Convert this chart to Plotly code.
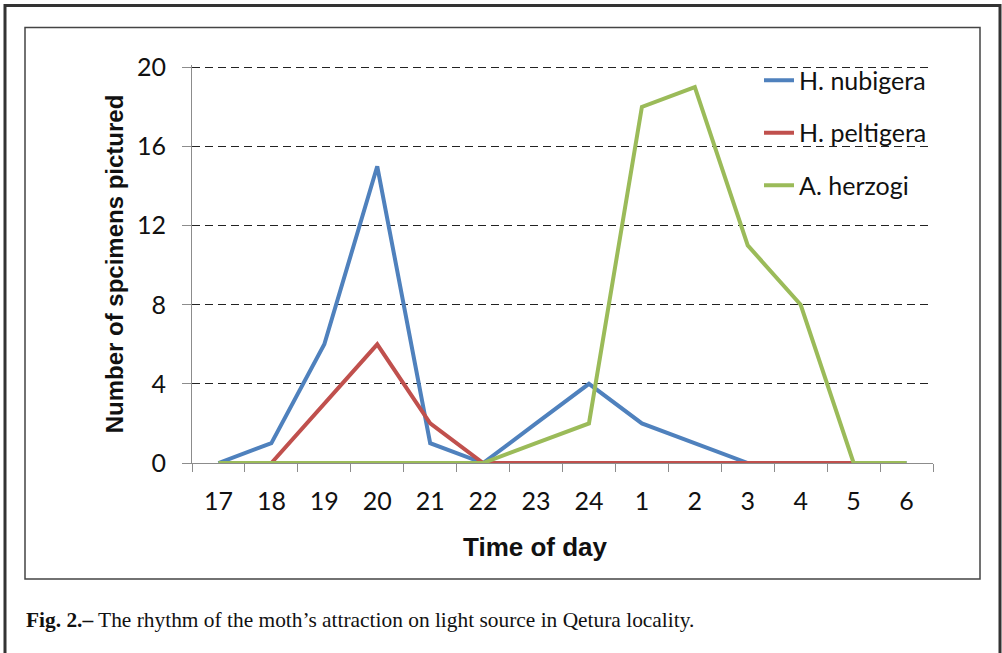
import plotly.graph_objects as go

hours = ["17", "18", "19", "20", "21", "22", "23", "24", "1", "2", "3", "4", "5", "6"]
nubigera = [0, 1, 6, 15, 1, 0, 2, 4, 2, 1, 0, 0, 0, 0]
peltigera = [None, 0, 3, 6, 2, 0, 0, 0, 0, 0, 0, 0, 0, None]
herzogi = [0, 0, 0, 0, 0, 0, 1, 2, 18, 19, 11, 8, 0, 0]
names = ["H. nubigera", "H. peltigera", "A. herzogi"]
colors = ["#4F81BD", "#C0504D", "#9BBB59"]

W, H = 1002, 653
YTOP = 20.12
L, R, B = 192, 933, 463
T = 67 - (YTOP - 20) / 20 * (B - 67)

def px(x):
    return (x - L) / (R - L)

def py(y):
    return (B - y) / (B - T)

fig = go.Figure()
for i, (nm, ys, c) in enumerate(zip(names, [nubigera, peltigera, herzogi], colors)):
    fig.add_trace(go.Scatter(x=hours, y=ys, name=nm, mode="lines",
                             line=dict(color=c, width=4), legendgroup=nm))

font = "Lato, 'Open Sans', sans-serif"
fig.update_layout(
    width=W, height=H,
    margin=dict(l=L, r=W - R, t=T, b=H - B),
    paper_bgcolor="white", plot_bgcolor="white",
    showlegend=True,
    legend=dict(x=px(759), y=py(57), xanchor="left", yanchor="top",
                bgcolor="rgba(0,0,0,0)", font=dict(family=font, size=25, color="#111"),
                tracegroupgap=17, itemwidth=30),
    xaxis=dict(type="category", range=[-0.5, 13.5], showline=True, linecolor="#8c8c8c",
               linewidth=1.2, ticks="outside", tickson="boundaries", ticklen=8,
               tickcolor="#8c8c8c", showgrid=False,
               tickfont=dict(family=font, size=25, color="#111"),
               ticklabelstandoff=16),
    yaxis=dict(range=[0, YTOP], tickvals=[0, 4, 8, 12, 16, 20], showline=True,
               linecolor="#8c8c8c", linewidth=1.2, ticks="outside", ticklen=9,
               tickcolor="#8c8c8c", showgrid=True, gridcolor="#222", griddash="8px,5px",
               gridwidth=1, zeroline=False,
               tickfont=dict(family=font, size=25, color="#111"), ticklabelstandoff=11,
               title=dict(text="<b>Number of spcimens pictured</b>", standoff=6,
                          font=dict(family="Liberation Sans, Arial, sans-serif", size=24, color="#111"))),
    shapes=[
        dict(type="rect", xref="paper", yref="paper", x0=px(5), x1=px(1000), y0=py(700), y1=py(5),
             line=dict(color="#333", width=3), layer="below"),
        dict(type="rect", xref="paper", yref="paper", x0=px(25), x1=px(980), y0=py(579), y1=py(27),
             line=dict(color="#444", width=1.5), layer="below"),
    ],
    annotations=[
        dict(xref="paper", yref="paper", x=px(535), y=py(547), xanchor="center", yanchor="middle",
             showarrow=False, text="<b>Time of day</b>",
             font=dict(family="Liberation Sans, Arial, sans-serif", size=26, color="#111")),
        dict(xref="paper", yref="paper", x=px(24), y=py(620), xanchor="left", yanchor="middle",
             showarrow=False,
             text="<b>Fig. 2.–</b> The rhythm of the moth’s attraction on light source in Qetura locality.",
             font=dict(family="Liberation Serif, Times New Roman, serif", size=21.4, color="#111")),
    ],
)

fig.write_html("out.html", config={"displayModeBar": False},
               post_script="document.body.style.margin='0';document.body.style.overflow='hidden';")
